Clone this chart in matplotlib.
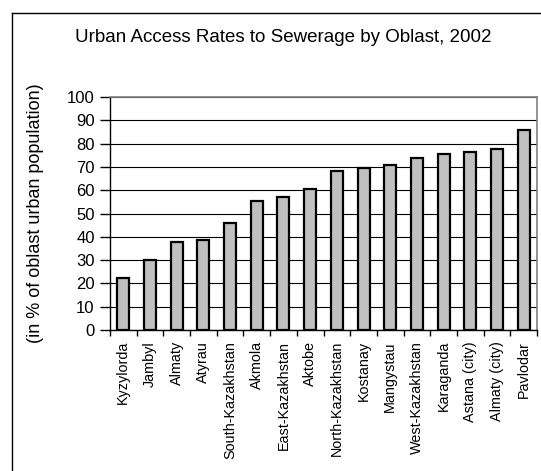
import matplotlib
matplotlib.use("Agg")
import matplotlib.pyplot as plt
from matplotlib.lines import Line2D
import numpy as np

plt.rcParams['font.family'] = ['Liberation Sans', 'DejaVu Sans']

# Urban access to sewerage, % of oblast urban population (2002)
oblasts = ["Kyzylorda", "Jambyl", "Almaty", "Atyrau", "South-Kazakhstan",
           "Akmola", "East-Kazakhstan", "Aktobe", "North-Kazakhstan",
           "Kostanay", "Mangystau", "West-Kazakhstan", "Karaganda",
           "Astana (city)", "Almaty (city)", "Pavlodar"]
access = [22.2, 30.0, 37.9, 38.6, 46.1, 55.5, 57.0, 60.4, 68.1,
          69.4, 70.7, 73.7, 75.7, 76.5, 77.8, 85.7]
yticks = list(range(0, 101, 10))

fig = plt.figure(figsize=(5.41, 4.71), dpi=100)
ax = fig.add_axes([110 / 541, 1 - 330 / 471, 427 / 541, 233 / 471])

x = np.arange(len(oblasts))
ax.bar(x, access, width=0.45, color='#c0c0c0', edgecolor='black',
       linewidth=1.6, zorder=3)

ax.set_xlim(-0.5, len(oblasts) - 0.5)
ax.set_ylim(0, 100)
ax.set_yticks(yticks)
ax.tick_params(axis='y', labelsize=12, length=7, width=1, direction='out', pad=4)
ax.yaxis.grid(True, color='black', linewidth=0.8, zorder=0)

# category labels sit under the bars, ticks mark the boundaries
ax.set_xticks(x)
ax.set_xticklabels(oblasts, rotation=90, fontsize=10.4)
ax.tick_params(axis='x', length=0, pad=8)
ax.set_xticks(np.arange(-0.5, len(oblasts)), minor=True)
ax.tick_params(axis='x', which='minor', length=4, width=1, direction='out')

for side in ['top', 'right']:
    ax.spines[side].set_color('#808080')
    ax.spines[side].set_linewidth(1.2)
for side in ['left', 'bottom']:
    ax.spines[side].set_color('black')
    ax.spines[side].set_linewidth(1)

ax.set_ylabel('(in % of oblast urban population)', fontsize=13)
ax.yaxis.set_label_coords(-0.155, 0.5)
fig.text(0.5 * (75 + 492) / 541, 1 - 38 / 471,
         'Urban Access Rates to Sewerage by Oblast, 2002',
         ha='center', va='center', fontsize=13.5)

# outer chart border (left and top edges)
fig.add_artist(Line2D([11.5 / 541, 11.5 / 541], [0, 1 - 12.5 / 471],
                      color='black', linewidth=1, transform=fig.transFigure))
fig.add_artist(Line2D([11.5 / 541, 1], [1 - 12.5 / 471, 1 - 12.5 / 471],
                      color='black', linewidth=1, transform=fig.transFigure))

fig.savefig('out.png', dpi=100)
